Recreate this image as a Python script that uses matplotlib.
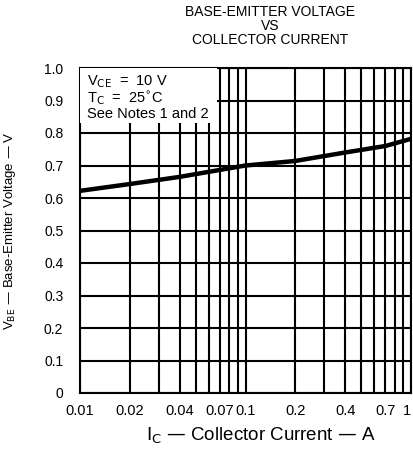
import numpy as np
import matplotlib
matplotlib.use("Agg")
from matplotlib import pyplot as plt
from matplotlib.patches import Rectangle

plt.rcParams['font.family'] = ['Liberation Sans', 'DejaVu Sans']

# curve
ic = [0.01, 0.02, 0.04, 0.1, 0.2, 0.4, 0.7, 1.0]
vbe = [0.622, 0.643, 0.665, 0.700, 0.714, 0.740, 0.760, 0.782]

xticks = [0.01, 0.02, 0.04, 0.07, 0.1, 0.2, 0.4, 0.7, 1]
xlabels = ['0.01', '0.02', '0.04', '0.07', '0.1', '0.2', '0.4', '0.7', '1']
yticks = [0, 0.1, 0.2, 0.3, 0.4, 0.5, 0.6, 0.7, 0.8, 0.9, 1.0]
ylabels = ['0', '0.1', '0.2', '0.3', '0.4', '0.5', '0.6', '0.7', '0.8', '0.9', '1.0']

fig = plt.figure(figsize=(4.13, 4.5), dpi=100)
ax = fig.add_axes([80/413, 57/450, 331/413, 325/450])

# grid lines
vx = [m * d for d in (0.01, 0.1) for m in range(1, 10)] + [1.0]
for x in vx:
    ax.axvline(x, color='black', lw=1.5, zorder=1)
for y in yticks:
    ax.axhline(y, color='black', lw=1.5, zorder=1)

ax.plot(ic, vbe, color='black', lw=3.2, zorder=3, solid_capstyle='butt')

ax.set_xscale('log')
ax.set_xlim(0.01, 1)
ax.set_ylim(0, 1.0)
ax.set_xticks(xticks)
ax.set_xticklabels(xlabels, fontsize=10.5)
ax.get_xticklabels()[-1].set_ha('right')
ax.xaxis.set_minor_locator(matplotlib.ticker.NullLocator())
ax.set_yticks(yticks)
ax.set_yticklabels(ylabels, fontsize=10)
ax.tick_params(axis='x', length=0, pad=8)
ax.tick_params(axis='y', length=0, pad=12)
for s in ax.spines.values():
    s.set_linewidth(1.5)

# notes box
ax.add_patch(Rectangle((0, 0.83), 0.415, 0.17, transform=ax.transAxes,
                       facecolor='white', edgecolor='none', zorder=4))
ax.text(0.02, 0.985, r'V$_{\mathrm{CE}}$  =  10 V' + '\n' + r'T$_{\mathrm{C}}$  =  25$^{\circ}$C' + '\nSee Notes 1 and 2',
        transform=ax.transAxes, va='top', ha='left', fontsize=10.5, linespacing=1.0, zorder=5)

ax.set_xlabel(r'I$_{\mathrm{C}}$ — Collector Current — A', fontsize=13.5)
ax.xaxis.set_label_coords((261 - 80) / 331, -0.1)
ax.set_ylabel(r'V$_{\mathrm{BE}}$ — Base-Emitter Voltage — V', fontsize=9.5)
ax.yaxis.set_label_coords(-(80 - 18) / 331, 0.5)

fig.text(270/413, 0.99, 'BASE-EMITTER VOLTAGE\nVS\nCOLLECTOR CURRENT',
         ha='center', va='top', fontsize=10, linespacing=1.0)

plt.savefig('out.png', dpi=100)
